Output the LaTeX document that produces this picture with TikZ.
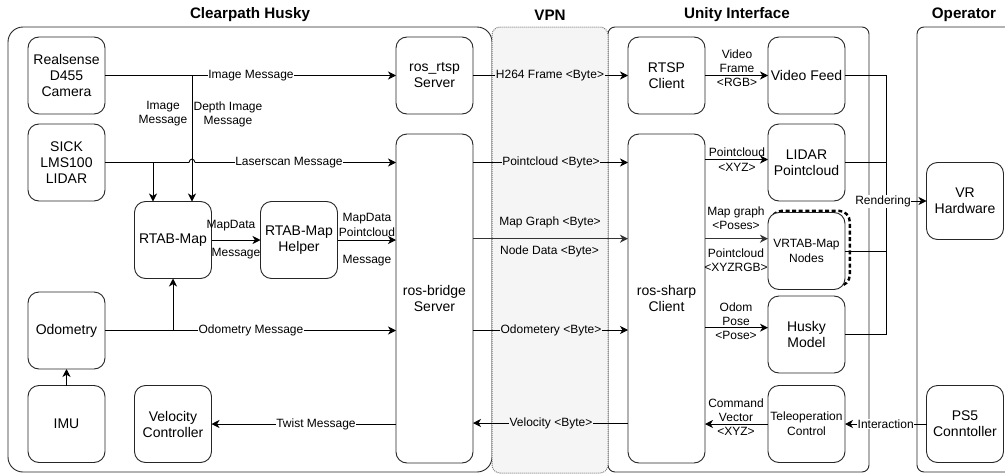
\documentclass[tikz,border=0pt]{standalone}
\usepackage{fontspec}
\setmainfont{Liberation Sans}
\usetikzlibrary{arrows.meta,calc}
\tikzset{
  x=1pt,y=-1pt,
  pane/.style={draw=black!85,line width=0.9pt,fill=white},
  box/.style={draw=black!85,line width=0.9pt,fill=white,rounded corners=11pt,align=center,
    minimum width=77pt,minimum height=77pt,inner sep=0pt,outer sep=0pt,
    font=\fontsize{14}{16}\selectfont},
  smallbox/.style={box,font=\fontsize{12}{15}\selectfont},
  tallbox/.style={box,minimum height=329pt},
  lab/.style={fill=white,inner sep=0.6pt,align=center,font=\fontsize{12}{14.2}\selectfont},
  vlab/.style={lab,fill=vpngray},
  txt/.style={lab,fill=none},
  title/.style={font=\fontsize{15.2}{17}\selectfont\bfseries,inner sep=0pt},
  conn/.style={line width=0.9pt,draw=black},
  arr/.style={conn,-{Stealth[length=8pt,width=8pt,inset=2.4pt]}},
}
\definecolor{vpngray}{HTML}{F5F5F5}
\begin{document}
\begin{tikzpicture}
\useasboundingbox (0,0) rectangle (1005,474);
% containers
\draw[pane,rounded corners=15pt] (8,27) rectangle (492,472);
\draw[pane,rounded corners=7pt] (608,27) rectangle (869,472);
\draw[pane,rounded corners=7pt] (917,27) rectangle (1020,472);
\draw[draw=black!50,fill=vpngray,densely dotted,line width=1pt,rounded corners=8pt] (492,27) rectangle (608,473);
% titles
\node[title] (tHusky) at (250,15) {Clearpath Husky};
\node[title] (tVpn) at (550,15) {VPN};
\node[title] (tUnity) at (737,15) {Unity Interface};
\node[title] (tOp) at (964,15) {Operator};
% dashed halo behind VRTAB-Map node
\draw[line width=2.4pt,dash pattern=on 4pt off 2.6pt,rounded corners=11pt] (771,210.8) rectangle (849.8,286);
% boxes
\node[box] (cam) at (66.5,75.5) {Realsense\\D455\\Camera};
\node[box] (sick) at (66.5,162.5) {SICK\\LMS100\\LIDAR};
\node[box] (rtab) at (173,240) {RTAB-Map};
\node[box] (helper) at (299,240) {RTAB-Map\\Helper};
\node[box] (odo) at (66.5,330.5) {Odometry};
\node[box] (imu) at (66.5,424) {IMU};
\node[box] (vel) at (173,424) {Velocity\\Controller};
\node[box] (rtspsrv) at (434.5,75.5) {ros\_rtsp\\Server};
\node[tallbox] (bridge) at (434.5,298.5) {ros-bridge\\Server};
\node[box] (rtspc) at (666.5,75.5) {RTSP\\Client};
\node[tallbox] (sharp) at (666.5,298.5) {ros-sharp\\Client};
\node[box] (video) at (806.5,75.5) {Video Feed};
\node[box] (lidar) at (806.5,162.5) {LIDAR\\Pointcloud};
\node[smallbox] (vrtab) at (806.5,251) {VRTAB-Map\\Nodes};
\node[box] (husky) at (806.5,334.5) {Husky\\Model};
\node[smallbox] (tele) at (806.5,424) {Teleoperation\\Control};
\node[box] (vr) at (965,201) {VR\\Hardware};
\node[box] (ps5) at (965,424) {PS5\\Conntoller};
% free coordinates
\coordinate (tapDepth) at (192,75.5);
\coordinate (tapLaser) at (153,162.5);
\coordinate (jumpL) at (189,162.5);
\coordinate (jumpR) at (195,162.5);
\coordinate (tapOdo) at (173,330.5);
\coordinate (yCloud) at (0,162.5);
\coordinate (yMap) at (0,238.7);
\coordinate (yOdom) at (0,330);
\coordinate (yVel) at (0,423);
\coordinate (yPc) at (0,159.5);
\coordinate (yPose) at (0,327.7);
\coordinate (bus) at (886,0);
% Husky connectors
\draw[arr] (cam.east) -- (rtspsrv.west);
\draw[arr] (tapDepth) -- (rtab.north -| tapDepth);
\draw[conn] (sick.east) -- (jumpL) .. controls (189.5,158) and (194.5,158) .. (jumpR);
\draw[arr] (jumpR) -- (sick.east -| bridge.west);
\draw[arr] (tapLaser) -- (rtab.north -| tapLaser);
\draw[arr] (rtab.east) -- (helper.west);
\draw[arr] (helper.east) -- (helper.east -| bridge.west);
\draw[arr] (odo.east) -- (odo.east -| bridge.west);
\draw[arr] (tapOdo) -- (rtab.south);
\draw[arr] (imu.north) -- (odo.south);
\draw[arr] (vel.east -| bridge.west) -- (vel.east);
% VPN connectors
\draw[arr] (rtspsrv.east) -- (rtspc.west);
\draw[arr] (bridge.east |- yCloud) -- (sharp.west |- yCloud);
\draw[arr,line width=1.4pt,draw=black!80] (bridge.east |- yMap) -- (sharp.west |- yMap);
\draw[arr] (bridge.east |- yOdom) -- (sharp.west |- yOdom);
\draw[arr] (sharp.west |- yVel) -- (bridge.east |- yVel);
% Unity connectors
\draw[arr] (rtspc.east) -- (video.west);
\draw[arr] (sharp.east |- yPc) -- (lidar.west |- yPc);
\draw[arr,line width=1.4pt,draw=black!80] (sharp.east |- yMap) -- (vrtab.west |- yMap);
\draw[arr] (sharp.east |- yPose) -- (husky.west |- yPose);
\draw[arr] (tele.west) -- (tele.west -| sharp.east);
% rendering bus
\draw[conn] (video.east) -- (video.east -| bus) -- (husky.east -| bus) -- (husky.east);
\draw[conn] (lidar.east) -- (lidar.east -| bus);
\draw[conn] (vrtab.east) -- (vrtab.east -| bus);
\draw[arr] (vr.west -| bus) -- (vr.west);
\draw[arr] (ps5.west) -- (tele.east);
% labels
\node[lab] (lImg) at (251,75.5) {Image Message};
\node[txt] (lImg2) at (163,114) {Image\\Message};
\node[txt] (lDepth) at (228,114) {Depth Image\\Message};
\node[lab] (lLaser) at (289,162.5) {Laserscan Message};
\node[txt] (lMd1) at (231,226) {MapData};
\node[txt] (lMd2) at (236,254) {Message};
\node[txt] (lMd3) at (367,219) {MapData};
\node[txt] (lMd4) at (367,232.7) {Pointcloud};
\node[txt] (lMd5) at (367,260.7) {Message};
\node[lab] (lOdo) at (251,330.5) {Odometry Message};
\node[lab] (lTwist) at (316,424) {Twist Message};
\node[vlab] (vH264) at (550,75.5) {H264 Frame <Byte>};
\node[vlab] (vPc) at (551,162.5) {Pointcloud <Byte>};
\node[txt] (vMap) at (550,222.5) {Map Graph <Byte>};
\node[txt] (vNode) at (549.5,251) {Node Data <Byte>};
\node[vlab] (vOdo) at (551,330) {Odometery <Byte>};
\node[vlab] (vVel) at (551,423) {Velocity <Byte>};
\node[txt] (uVid) at (737,68.5) {Video\\Frame\\<RGB>};
\node[txt] (uPc1) at (737,152) {Pointcloud};
\node[txt] (uPc2) at (737,167) {<XYZ>};
\node[txt] (uMg) at (736,218) {Map graph\\<Poses>};
\node[txt] (uPc3) at (736,260) {Pointcloud\\<XYZRGB>};
\node[txt] (uOd) at (736,321.5) {Odom\\Pose\\<Pose>};
\node[txt] (uCm) at (736,417) {Command\\Vector\\<XYZ>};
\node[lab] (lRen) at (883,201.5) {Rendering};
\node[lab] (lInt) at (885.7,424) {Interaction};
\end{tikzpicture}
\end{document}
